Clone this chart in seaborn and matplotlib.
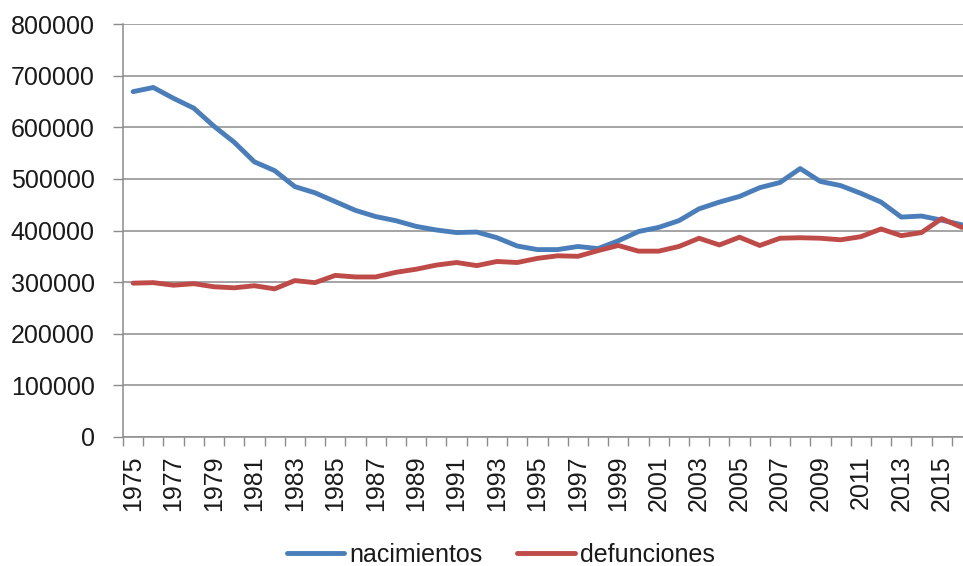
import numpy as np
import pandas as pd
import matplotlib
matplotlib.use("Agg")
import matplotlib.pyplot as plt
import seaborn as sns
from matplotlib.ticker import FixedLocator
from matplotlib.lines import Line2D

# datos (nacimientos y defunciones, 1975-2016)
anios = list(range(1975, 2017))
nacimientos = [669000, 677000, 656000, 637000, 602000, 571000, 533000, 516000,
               485000, 473000, 456000, 439000, 427000, 419000, 408000, 401000,
               396000, 397000, 386000, 370000, 363000, 363000, 369000, 365000,
               380000, 398000, 406000, 419000, 442000, 455000, 466000, 483000,
               493000, 520000, 495000, 487000, 472000, 455000, 426000, 428000,
               420000, 411000]
defunciones = [298000, 299000, 294000, 297000, 291000, 289000, 293000, 287000,
               303000, 299000, 313000, 310000, 310000, 319000, 325000, 333000,
               338000, 332000, 340000, 338000, 346000, 351000, 350000, 361000,
               371000, 360000, 360000, 369000, 385000, 372000, 387000, 371000,
               385000, 386000, 385000, 382000, 388000, 403000, 390000, 396000,
               423000, 406000]

df = pd.DataFrame({"anio": anios * 2,
                   "valor": nacimientos + defunciones,
                   "serie": ["nacimientos"] * len(anios) + ["defunciones"] * len(anios)})

sns.set_style("white")
plt.rcParams['font.family'] = ['Liberation Sans', 'DejaVu Sans']

fig = plt.figure(figsize=(9.63, 5.66), dpi=100)
ax = fig.add_axes([123 / 963, (566 - 437) / 566, (972 - 123) / 963, (437 - 24) / 566])

colores = {"nacimientos": "#4A7EBB", "defunciones": "#BE4B48"}
sns.lineplot(data=df, x="anio", y="valor", hue="serie", palette=colores,
             linewidth=3.5, ax=ax, legend=False)

# ejes
ax.set_xlim(1974.5, 2016.5)
ax.set_ylim(0, 800000)
ax.set_yticks(np.arange(0, 800001, 100000))
ax.set_yticklabels([str(v) for v in range(0, 800001, 100000)])
ax.set_xticks(anios[::2])
ax.set_xticklabels([str(a) for a in anios[::2]], rotation=90)
ax.xaxis.set_minor_locator(FixedLocator(np.arange(1974.5, 2017, 1)))
ax.tick_params(axis="x", which="major", length=0, pad=13, labelsize=18, colors="#1a1a1a")
ax.tick_params(axis="x", which="minor", length=6.5, width=1, color="#8c8c8c", direction="out", bottom=True)
ax.tick_params(axis="y", length=7, width=1, pad=13.5, labelsize=18,
               colors="#1a1a1a", left=True)
ax.tick_params(axis="y", color="#8c8c8c")
ax.yaxis.grid(True, color="#8c8c8c", linewidth=1.1)
ax.set_axisbelow(True)
ax.set_xlabel("")
ax.set_ylabel("")
for s in ["top", "right"]:
    ax.spines[s].set_visible(False)
for s in ["left", "bottom"]:
    ax.spines[s].set_color("#8c8c8c")
    ax.spines[s].set_linewidth(1.1)

# leyenda abajo
handles = [Line2D([], [], color=colores[k], linewidth=3.5) for k in ["nacimientos", "defunciones"]]
fig.legend(handles, ["nacimientos", "defunciones"], loc="center", ncol=2,
           bbox_to_anchor=(0.52, 0.02), frameon=False, fontsize=18,
           handlelength=2.3, handletextpad=0.2, columnspacing=1.4,
           labelcolor="#1a1a1a")

fig.savefig("out.png", dpi=100)
